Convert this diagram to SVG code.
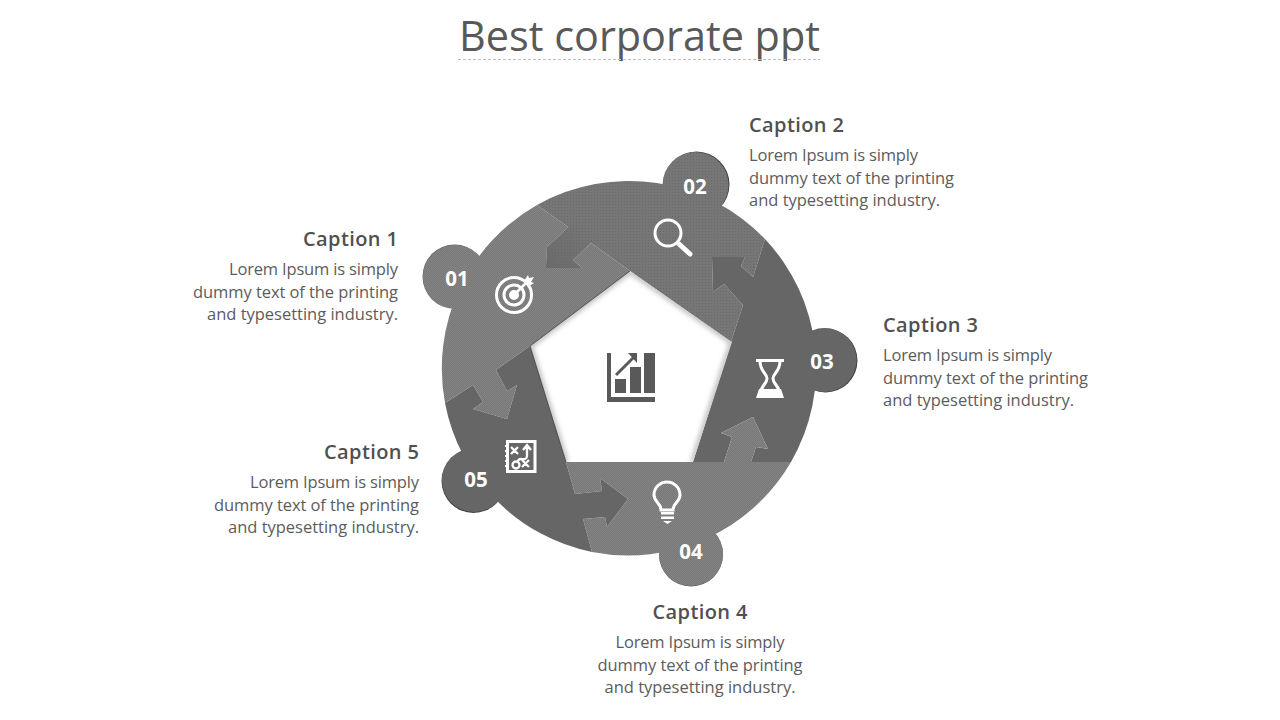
<svg xmlns="http://www.w3.org/2000/svg" width="1280" height="720" viewBox="0 0 1280 720">
<style>
text{font-family:"Open Sans","Noto Sans","Liberation Sans",sans-serif}
.t{font-size:16.500px;fill:#5c5c5c}
.c{font-size:20px;font-weight:600;fill:#505050}
.n{font-size:20.500px;font-weight:700;fill:#fff;text-anchor:middle}
.r{text-anchor:end}.m{text-anchor:middle}
.w{fill:none;stroke:#fff;stroke-width:3}
.f{fill:#fff}
</style>
<defs>
<pattern id="p1" width="2" height="2" patternUnits="userSpaceOnUse"><rect width="2" height="2" fill="#777"/><rect width="1" height="1" fill="#858585"/><rect x="1" y="1" width="1" height="1" fill="#858585"/></pattern>
<pattern id="p2" width="3" height="3" patternUnits="userSpaceOnUse"><rect width="3" height="3" fill="#767676"/><rect width="1" height="1" fill="#696969"/></pattern>
<linearGradient id="g2" gradientUnits="userSpaceOnUse" x1="548" y1="266" x2="590" y2="232"><stop offset="0" stop-color="#666" stop-opacity=".7"/><stop offset="1" stop-color="#666" stop-opacity="0"/></linearGradient>
<filter id="b" x="-20%" y="-20%" width="140%" height="140%"><feGaussianBlur stdDeviation="2.500"/></filter>
<clipPath id="pent"><path d="M630 271L732 342L693 462H566L530 346Z"/></clipPath>
</defs>
<g id="title"><text x="459" y="51" font-size="41.400" fill="#595959" textLength="361">Best corporate ppt</text><path d="M458 59.500H820" stroke="#bdbdbd" stroke-dasharray="3 2"/></g>
<g id="ring">
<circle cx="454.500" cy="276.500" r="32" fill="#6a6a6a"/><circle cx="696.500" cy="184.500" r="33" fill="#444"/><circle cx="825.500" cy="360.500" r="32" fill="#444"/><circle cx="691" cy="554.500" r="32" fill="#555"/><circle cx="473.500" cy="481" r="32" fill="#444"/>
<g id="node-1"><circle cx="455" cy="277" r="32" fill="url(#p1)"/><path fill="url(#p1)" d="M445 403A188 188 0 0 1 537 205L568 227L555 240L547 247L546 268H582L573 260L591 243L630 271L530 346L496 370L507 391L517 385L507 419L473 409L483 402L473 385Z"/></g>
<g id="node-2"><circle cx="695.500" cy="185" r="33" fill="url(#p2)"/><path id="seg2" fill="url(#p2)" d="M537 205A188 188 0 0 1 765 239L753 277L741 266L745 257H712L713 292L724 284L743 305L731 342L630 271L591 243L573 260L582 268H546L547 247L555 240L568 227Z"/><path fill="url(#g2)" d="M568 227L555 240L547 247L546 268H582L573 260L591 243L600 225L580 215Z"/></g>
<g id="node-3"><circle cx="824.500" cy="360" r="32" fill="#666"/><path fill="#666" d="M765 239A188 188 0 0 1 791 462H751L756 447L768 449L753 417L721 433L732 437L724 462H693L731 342L743 305L724 284L713 292L712 257H745L741 266L753 277Z"/></g>
<g id="node-4"><circle cx="691" cy="554" r="32" fill="url(#p1)"/><path fill="url(#p1)" d="M791 462A188 188 0 0 1 592 552L583 519L605 517L607 527L628 499L600 478L602 491L575 494L566 462H724L732 437L721 433L753 417L768 449L756 447L751 462Z"/></g>
<g id="node-5"><circle cx="474" cy="480" r="32" fill="#666"/><path fill="#666" d="M592 552A188 188 0 0 1 445 403L473 385L483 402L473 409L507 419L517 385L507 391L496 370L530 346L566 462L575 494L602 491L600 478L628 499L607 527L605 517L583 519Z"/></g>
</g>
<g id="pentagon">
<g clip-path="url(#pent)"><path d="M630 271L732 342L693 462H566L530 346Z" fill="#fff"/><path d="M630 271L732 342L693 462M566 462L530 346L630 271" fill="none" stroke="#b8b8b8" stroke-width="5" filter="url(#b)"/></g>
<path d="M566 462L530 346L630 271" fill="none" stroke="#333" stroke-width=".8"/>
<g id="chart" fill="#595959"><path d="M607 353h4v44h44v5h-48z"/><rect x="615" y="379" width="11" height="14"/><rect x="630" y="367" width="11" height="26"/><rect x="644" y="353" width="11" height="40"/><path d="M616 375L634 357" stroke="#595959" stroke-width="3" fill="none"/><path d="M628 353h9v10z"/></g>
</g>
<g id="icons">
<g id="icon-target"><circle class="w" cx="514" cy="295" r="17.500"/><circle class="w" cx="514" cy="295" r="10"/><circle class="f" cx="514" cy="295" r="5"/><path d="M514 295L528 281" stroke="#fff" stroke-width="2.500"/><path class="f" d="M524 281l4-6 1 3 5-1-3 5 3 1-6 4z"/></g>
<g id="icon-search"><circle class="w" cx="668" cy="233" r="13"/><path d="M679 244L690 254" stroke="#fff" stroke-width="5" stroke-linecap="round"/></g>
<g id="icon-hourglass"><path fill="none" stroke="#fff" stroke-width="3" d="M756 360.500H784M760 361C760 372 767 373 767 378.500C767 384 760 386 760 396M780 361C780 372 773 373 773 378.500C773 384 780 386 780 396"/><path class="f" d="M756 398L759 389H781L784 398Z"/></g>
<g id="icon-bulb"><path class="w" d="M661 510C661 503 654 502 654 495A12.500 12.500 0 0 1 680 495C680 502 673 503 673 510Z"/><path class="f" d="M661 512h13v2.500h-13zM661 516.500h13v2.500h-13zM663 521h9l-4.500 3z"/></g>
<g id="icon-plan"><rect class="w" x="507.500" y="441.500" width="27.500" height="30"/><path d="M505 446h3M505 451h3M505 456h3M505 461h3M505 466h3" stroke="#fff" stroke-width="2"/><path d="M511 447l7 7m0-7l-7 7M522 460l7 7m0-7l-7 7M527 456v-10M523 450l4-5 4 5M527 456c0 4-4 3-6 3s-4 2-3 3" fill="none" stroke="#fff" stroke-width="2.300"/><circle cx="516" cy="465" r="3.500" fill="none" stroke="#fff" stroke-width="2.300"/></g>
</g>
<g id="numbers"><text class="n" x="457" y="286">01</text><text class="n" x="695" y="194">02</text><text class="n" x="822" y="369">03</text><text class="n" x="691" y="559">04</text><text class="n" x="476" y="487">05</text></g>
<g id="cap-1"><text class="c r" x="398" y="246" textLength="95">Caption 1</text><text class="t r" x="398" y="275" textLength="169">Lorem Ipsum is simply</text><text class="t r" x="398" y="298" textLength="205">dummy text of the printing</text><text class="t r" x="398" y="320" textLength="191">and typesetting industry.</text></g>
<g id="cap-2"><text class="c" x="749" y="132" textLength="95">Caption 2</text><text class="t" x="749" y="161" textLength="169">Lorem Ipsum is simply</text><text class="t" x="749" y="184" textLength="205">dummy text of the printing</text><text class="t" x="749" y="206" textLength="191">and typesetting industry.</text></g>
<g id="cap-3"><text class="c" x="883" y="332" textLength="95">Caption 3</text><text class="t" x="883" y="361" textLength="169">Lorem Ipsum is simply</text><text class="t" x="883" y="384" textLength="205">dummy text of the printing</text><text class="t" x="883" y="406" textLength="191">and typesetting industry.</text></g>
<g id="cap-4"><text class="c m" x="700" y="619" textLength="95">Caption 4</text><text class="t m" x="700" y="648" textLength="169">Lorem Ipsum is simply</text><text class="t m" x="700" y="671" textLength="205">dummy text of the printing</text><text class="t m" x="700" y="693" textLength="191">and typesetting industry.</text></g>
<g id="cap-5"><text class="c r" x="419" y="459" textLength="95">Caption 5</text><text class="t r" x="419" y="488" textLength="169">Lorem Ipsum is simply</text><text class="t r" x="419" y="511" textLength="205">dummy text of the printing</text><text class="t r" x="419" y="533" textLength="191">and typesetting industry.</text></g>
</svg>
